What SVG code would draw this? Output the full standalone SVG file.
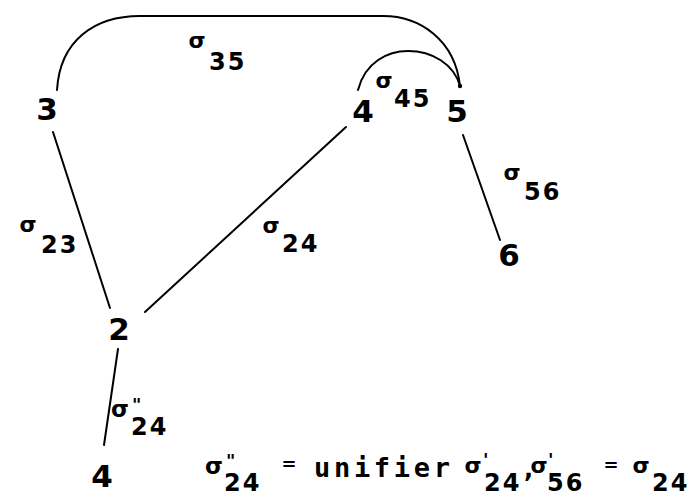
<svg xmlns="http://www.w3.org/2000/svg" width="691" height="496" viewBox="0 0 691 496">
<style>
.edge{fill:none;stroke:#000;stroke-width:2;stroke-linecap:round}
.node{font-family:"DejaVu Sans",sans-serif;font-size:31px;font-weight:bold;text-anchor:middle;fill:#000}
.sig{font-family:"DejaVu Sans",sans-serif;font-size:22px;font-weight:bold;text-anchor:middle;fill:#000}
.sub{font-family:"DejaVu Sans",sans-serif;font-size:24px;font-weight:bold;letter-spacing:2px;fill:#000}
.prm{font-family:"DejaVu Sans",sans-serif;font-size:18px;font-weight:bold;fill:#000}
.mono{font-family:"DejaVu Sans Mono",monospace;font-size:27px;font-weight:bold;fill:#000}
</style>
<rect width="691" height="496" fill="#fff"/>
<g id="connectors">
<path class="edge" d="M57,90 C60,40 95,16 140,16 L383,16 C420,16 455,40 460,86"/>
<path class="edge" d="M358,90 C365,62 388,51 408,51 C432,51 454,64 460,86"/>
<circle cx="460" cy="86" r="2.2" fill="#000"/>
<line class="edge" x1="53" y1="132" x2="110" y2="308"/>
<line class="edge" x1="145" y1="312" x2="346" y2="127"/>
<line class="edge" x1="118" y1="349" x2="104" y2="445"/>
<line class="edge" x1="463" y1="135" x2="500" y2="240"/>
</g>
<g id="n3"><text class="node" x="47" y="120">3</text></g>
<g id="n4a"><text class="node" x="363" y="122">4</text></g>
<g id="n5"><text class="node" x="457" y="122">5</text></g>
<g id="n6"><text class="node" x="509" y="266">6</text></g>
<g id="n2"><text class="node" x="119" y="340">2</text></g>
<g id="n4b"><text class="node" x="102" y="487">4</text></g>
<g id="labels">
<text class="sig" x="197" y="48">σ</text><text class="sub" x="209" y="70">35</text>
<text class="sig" x="28" y="232">σ</text><text class="sub" x="41" y="253">23</text>
<text class="sig" x="271" y="233">σ</text><text class="sub" x="282" y="252">24</text>
<text class="sig" x="384" y="88">σ</text><text class="sub" x="394" y="107">45</text>
<text class="sig" x="512" y="180">σ</text><text class="sub" x="524" y="200">56</text>
<text class="sig" x="120" y="417" style="font-size:23px">σ</text><text class="prm" x="132" y="411">"</text><text class="sub" x="131" y="435">24</text>
</g>
<g id="caption">
<text class="sig" x="214" y="474" style="font-size:23px">σ</text><text class="prm" x="226" y="467">"</text><text class="sub" x="224" y="491">24</text>
<text class="prm" x="289" y="470" text-anchor="middle">=</text>
<text class="mono" x="314" y="477" textLength="136">unifier</text>
<text class="sig" x="473" y="473">σ</text><text class="prm" x="483" y="466">'</text><text class="sub" x="484" y="491" letter-spacing="1">24</text>
<text class="sub" x="524" y="477" letter-spacing="0">,</text>
<text class="sig" x="539" y="473">σ</text><text class="prm" x="548" y="466">'</text><text class="sub" x="547" y="491">56</text>
<text class="prm" x="611" y="471" text-anchor="middle">=</text>
<text class="sig" x="641" y="473">σ</text><text class="sub" x="652" y="491">24</text>
</g>
</svg>
